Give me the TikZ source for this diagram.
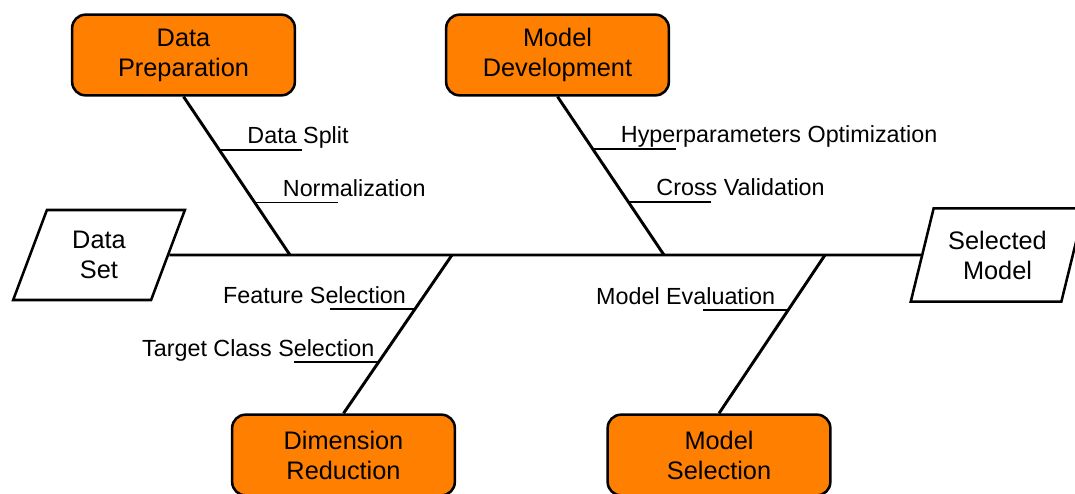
\documentclass[tikz,border=0pt]{standalone}
\usepackage{fontspec}
\setmainfont{Liberation Sans}
\usepackage{xcolor}
\usepackage{tikz}
\usetikzlibrary{shapes.geometric,calc}
\definecolor{causeorange}{RGB}{255,128,0}

\begin{document}
\begin{tikzpicture}[x=0.75pt,y=0.75pt,yscale=-1,xscale=1,
  cause/.style={draw=black,fill=causeorange,line width=1.9pt,rounded corners=10pt,
    minimum width=167pt,minimum height=60.5pt,inner sep=0pt,align=center,
    font=\fontsize{19}{22.5}\selectfont},
  iobox/.style={draw=black,line width=1.9pt,trapezium,trapezium left angle=70,
    trapezium right angle=110,trapezium stretches=true,inner sep=0pt,align=center,
    font=\fontsize{19}{22.5}\selectfont},
  bone/.style={line width=2.2pt},
  rib/.style={line width=1.3pt},
  lbl/.style={inner sep=0pt,font=\fontsize{17.5}{20}\selectfont}]
\useasboundingbox (0,0) rectangle (1075,493);

% Shapes
\node[cause] (prep) at (183.5,55) {Data\\Preparation};
\node[cause] (dev) at (557.5,55) {Model\\Development};
\node[cause] (dimred) at (343.5,455) {Dimension\\Reduction};
\node[cause] (msel) at (719,455) {Model\\Selection};
\node[iobox,minimum width=129pt,minimum height=67.5pt] (dset) at (99,255) {Data\\Set};
\node[iobox,minimum width=131pt,minimum height=70pt] (smodel) at (997.5,255) {Selected\\Model};

% Spine and bones
\coordinate (j1) at (290,255);
\coordinate (j2) at (664,255);
\coordinate (j3) at (452,255);
\coordinate (j4) at (825,255);
\draw[bone] (dset) -- (smodel);
\draw[bone] (prep.south) -- (j1);
\draw[bone] (dev.south) -- (j2);
\draw[bone] (j3) -- (dimred.north);
\draw[bone] (j4) -- (msel.north);

% Ribs above the spine
\coordinate (r1) at ($(prep.south)!0.335!(j1)$);
\coordinate (r2) at ($(prep.south)!0.668!(j1)$);
\coordinate (r3) at ($(dev.south)!0.33!(j2)$);
\coordinate (r4) at ($(dev.south)!0.664!(j2)$);
\foreach \r in {r1,r2,r3,r4}
  \draw[rib] (\r) -- ++(83,0) coordinate (\r e);

% Ribs below the spine
\coordinate (r5) at ($(j3)!0.339!(dimred.north)$);
\coordinate (r6) at ($(j3)!0.677!(dimred.north)$);
\coordinate (r7) at ($(j4)!0.345!(msel.north)$);
\foreach \r in {r5,r6,r7}
  \draw[rib] (\r) -- ++(-85,0) coordinate (\r e);

% Text Node
\node[lbl,anchor=base west] (tsplit) at ($(r1)+(28,-6)$) {Data Split};
\node[lbl,anchor=base west] (tnorm) at ($(r2)+(28,-6)$) {Normalization};
\node[lbl,anchor=base west] (thyper) at ($(r3)+(28,-6)$) {Hyperparameters Optimization};
\node[lbl,anchor=base west] (tcross) at ($(r4)+(28,-6)$) {Cross Validation};
\node[lbl,anchor=base east] (tfeat) at ($(r5)+(-9,-5)$) {Feature Selection};
\node[lbl,anchor=base east] (ttarget) at ($(r6)+(-4,-6)$) {Target Class Selection};
\node[lbl,anchor=base east] (teval) at ($(r7)+(-13,-5)$) {Model Evaluation};

\end{tikzpicture}
\end{document}
